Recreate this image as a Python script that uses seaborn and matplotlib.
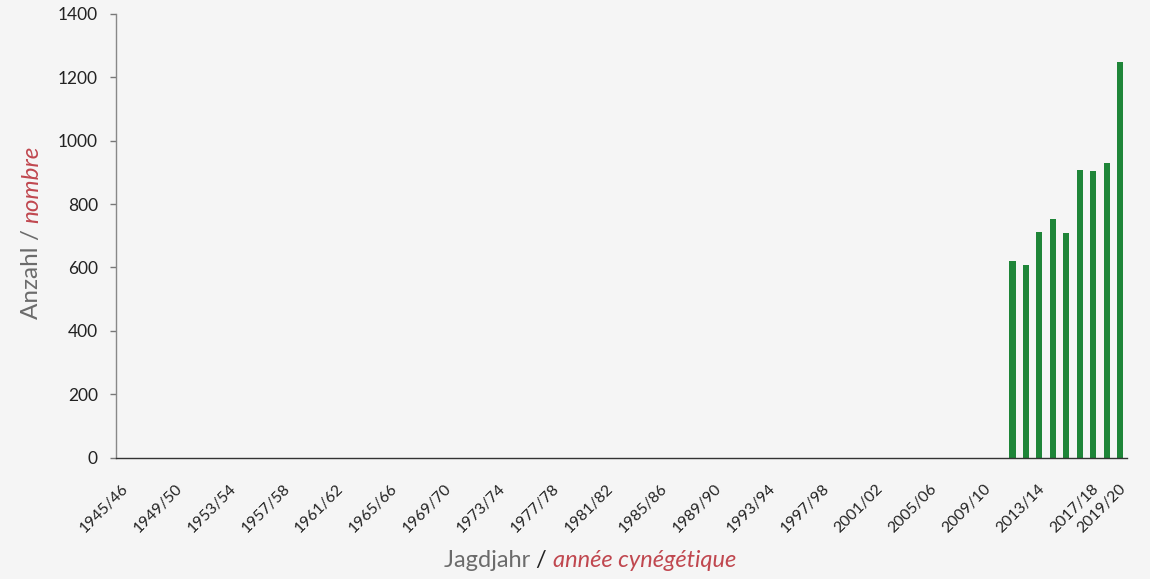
import matplotlib
matplotlib.use("Agg")
import matplotlib.pyplot as plt
import matplotlib.transforms as mtransforms
import seaborn as sns
import pandas as pd
import numpy as np

# ---- data ----
seasons = [f"{y}/{str(y + 1)[-2:]}" for y in range(1945, 2020)]
bar_seasons = ["2011/12", "2012/13", "2013/14", "2014/15", "2015/16",
               "2016/17", "2017/18", "2018/19", "2019/20"]
bar_values = [620, 608, 712, 752, 708, 908, 905, 930, 1248]
label_seasons = [f"{y}/{str(y + 1)[-2:]}" for y in range(1945, 2018, 4)] + ["2019/20"]
y_ticks = [0, 200, 400, 600, 800, 1000, 1200, 1400]

BG = "#f5f5f5"
GREEN = "#1e8538"
RED = "#c0474f"
GRAY = "#6b6b6b"

sns.set_theme(style="white")
plt.rcParams["font.family"] = ["Lato", "DejaVu Sans"]

df = pd.DataFrame({"season": bar_seasons, "value": bar_values})

fig = plt.figure(figsize=(11.5, 5.79), dpi=100, facecolor=BG)
W, H = 1150, 579
ax = fig.add_axes([116 / W, 1 - 457.5 / H, (1127 - 116) / W, (457.5 - 14) / H])
ax.set_facecolor(BG)

sns.barplot(data=df, x="season", y="value", order=seasons, color=GREEN,
            width=0.46, saturation=1, linewidth=0, ax=ax)

ax.set_xlim(-0.5, len(seasons) - 0.5)
ax.set_ylim(0, 1400)
ax.set_yticks(y_ticks)
ax.set_yticklabels([str(v) for v in y_ticks], fontsize=12.5, color="#222222")

pos = [seasons.index(s) for s in label_seasons]
ax.set_xticks(pos)
ax.set_xticklabels(label_seasons, rotation=45, ha="right", va="center",
                   rotation_mode="anchor", fontsize=11.3, color="#222222")
ax.tick_params(axis="x", which="major", length=0, pad=21)
offset = mtransforms.ScaledTranslation(3 / 100, 0, fig.dpi_scale_trans)
for lbl in ax.get_xticklabels():
    lbl.set_transform(lbl.get_transform() + offset)
ax.set_xticks(np.arange(-0.5, len(seasons), 1.0), minor=True)
ax.tick_params(axis="x", which="minor", length=4, width=1, color="#555555", direction="out")
ax.tick_params(axis="y", length=4, width=1, color="#777777", direction="out", left=True, pad=9)

for s in ["top", "right"]:
    ax.spines[s].set_visible(False)
ax.spines["left"].set_color("#888888")
ax.spines["bottom"].set_color("#333333")
ax.spines["left"].set_linewidth(1)
ax.spines["bottom"].set_linewidth(1)
ax.set_xlabel("")
ax.set_ylabel("")

# ---- multi-coloured axis labels ----
fig.canvas.draw()
r = fig.canvas.get_renderer()

fs = 17
# x label (horizontal)
parts_x = [("Jagdjahr ", GRAY, "normal"), ("/ ", "#222222", "normal"),
           ("année cynégétique", RED, "italic")]
texts = []
for t, c, st in parts_x:
    texts.append(fig.text(0, 0, t, color=c, style=st, fontsize=fs, ha="left", va="baseline"))
widths = [tx.get_window_extent(r).width for tx in texts]
total = sum(widths)
cx = 590
x0 = cx - total / 2
ybase = 567
for tx, w in zip(texts, widths):
    tx.set_position((x0 / W, 1 - ybase / H))
    x0 += w

# y label (vertical)
parts_y = [("Anzahl ", GRAY, "normal"), ("/ ", GRAY, "normal"), ("nombre", RED, "italic")]
texts = []
for t, c, st in parts_y:
    texts.append(fig.text(0, 0, t, color=c, style=st, fontsize=fs + 0.5, rotation=90,
                          ha="left", va="bottom", rotation_mode="anchor"))
heights = [tx.get_window_extent(r).height for tx in texts]
total = sum(heights)
cy = 232
y0 = cy + total / 2
xbase = 42
for tx, h in zip(texts, heights):
    tx.set_position((xbase / W, 1 - y0 / H))
    y0 -= h

fig.savefig("out.png", dpi=100, facecolor=BG)
